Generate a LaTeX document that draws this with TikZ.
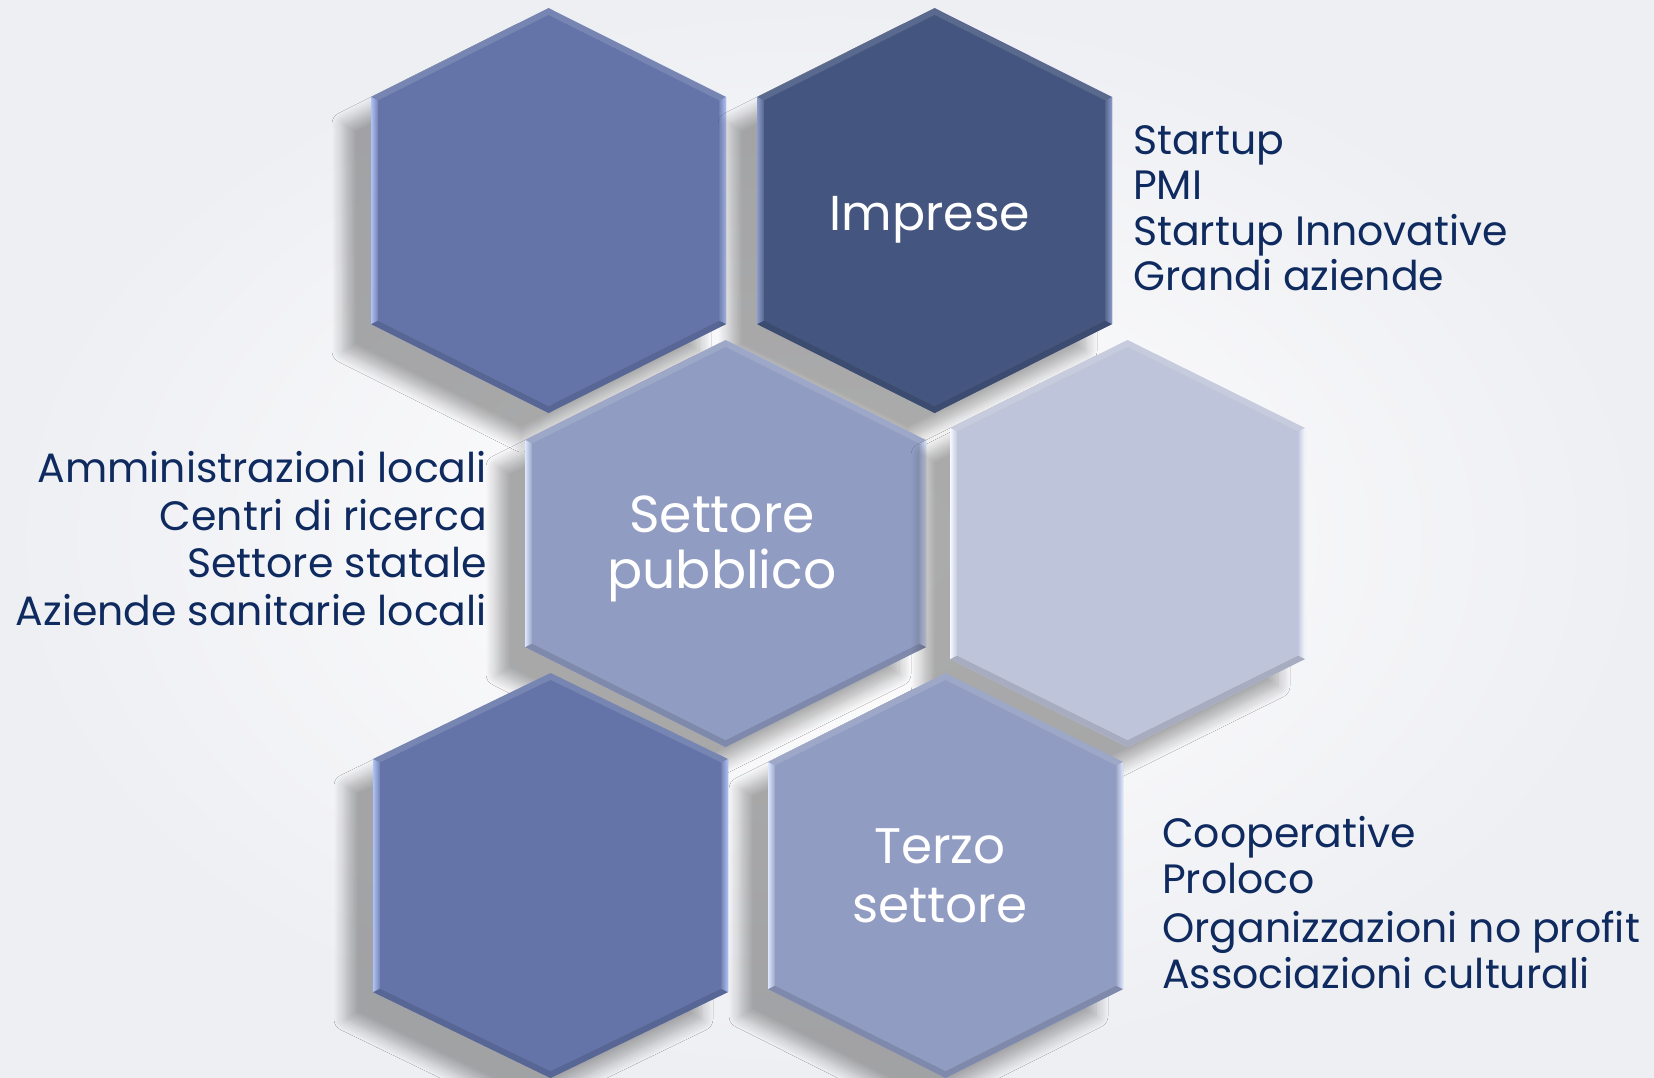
\documentclass[tikz,border=0pt]{standalone}
\usepackage{fontspec}
\setmainfont{Poppins}
\usetikzlibrary{shadows.blur}
\definecolor{hexA}{HTML}{6474A9}
\definecolor{hexAl}{HTML}{AFC2F6}
\definecolor{hexB}{HTML}{44557F}
\definecolor{hexBl}{HTML}{8A9CCB}
\definecolor{hexC}{HTML}{909CC2}
\definecolor{hexCl}{HTML}{DCE6FC}
\definecolor{hexD}{HTML}{BEC4DA}
\definecolor{hexDl}{HTML}{F6F9FF}
\definecolor{listtext}{HTML}{0F2A5F}
\definecolor{bgout}{HTML}{EEEFF3}
\tikzset{
  hexlabel/.style={text=white, inner sep=0pt, anchor=base},
  listitem/.style={text=listtext, inner sep=0pt},
}
\newcommand\hexshape[7]{%
  \begin{scope}[shift={(#1,#2)}]
    \path[blur shadow={shadow xshift=-27pt,shadow yshift=-27pt,shadow blur radius=12pt,shadow blur steps=12,shadow opacity=32},
          fill=#6!88!white]
      (0,-#4) -- (#3,-#4+#5) -- (#3,#4-#5) -- (0,#4) -- (-#3,#4-#5) -- (-#3,-#4+#5) -- cycle;
    \fill[#6!88!black]
      (#3,#4-#5) -- (0,#4) -- (-#3,#4-#5) -- (-#3+7,#4-#5-3.5) -- (0,#4-7) -- (#3-7,#4-#5-3.5) -- cycle;
    \shade[left color=#7, right color=#6!90!white]
      (-#3,-#4+#5) -- (-#3+7,-#4+#5+3.5) -- (-#3+7,#4-#5-3.5) -- (-#3,#4-#5) -- cycle;
    \shade[left color=#6!90!white, right color=#7]
      (#3,-#4+#5) -- (#3-7,-#4+#5+3.5) -- (#3-7,#4-#5-3.5) -- (#3,#4-#5) -- cycle;
    \fill[#6]
      (0,-#4+7) -- (#3-7,-#4+#5+3.5) -- (#3-7,#4-#5-3.5) -- (0,#4-7) -- (-#3+7,#4-#5-3.5) -- (-#3+7,-#4+#5+3.5) -- cycle;
  \end{scope}}
\begin{document}
\begin{tikzpicture}[x=1pt,y=-1pt]
  \useasboundingbox (0,0) rectangle (1654,1078);
  \shade[inner color=white, outer color=bgout] (0,0) rectangle (1654,1078);

  \hexshape{548.5}{210.5}{177.5}{202.5}{89}{hexA}{hexAl}
  \hexshape{934.5}{210.5}{177.5}{202.5}{89}{hexB}{hexBl}
  \hexshape{725.5}{543.5}{200.5}{203.5}{100}{hexC}{hexCl}
  \hexshape{1127.5}{543.5}{177.5}{203.5}{88}{hexD}{hexDl}
  \hexshape{550.5}{875.5}{177.5}{202.5}{86}{hexA}{hexAl}
  \hexshape{945.5}{875.5}{177.5}{202.5}{89}{hexC}{hexCl}

  % labels inside hexagons
  \node[hexlabel, font=\fontsize{49}{53}\selectfont] (imprese) at (930,230) {Imprese};
  \node[hexlabel, font=\fontsize{52}{56}\selectfont] (settore1) at (722,532) {Settore};
  \node[hexlabel, font=\fontsize{52}{56}\selectfont] (settore2) at (722,588) {pubblico};
  \node[hexlabel, font=\fontsize{50}{54}\selectfont] (terzo1) at (940,863) {Terzo};
  \node[hexlabel, font=\fontsize{50}{54}\selectfont] (terzo2) at (940,922) {settore};

  % list: Imprese
  \begin{scope}[every node/.style={listitem, anchor=base west, font=\fontsize{41}{45}\selectfont}]
    \node (i1) at (1133,155) {Startup};
    \node (i2) at (1133,200) {PMI};
    \node (i3) at (1133,245) {Startup Innovative};
    \node (i4) at (1133,290) {Grandi aziende};
  \end{scope}

  % list: Settore pubblico
  \begin{scope}[every node/.style={listitem, anchor=base east, font=\fontsize{41}{45}\selectfont}]
    \node (p1) at (487,482) {Amministrazioni locali};
    \node (p2) at (487,530) {Centri di ricerca};
    \node (p3) at (487,577) {Settore statale};
    \node (p4) at (487,625) {Aziende sanitarie locali};
  \end{scope}

  % list: Terzo settore
  \begin{scope}[every node/.style={listitem, anchor=base west, font=\fontsize{41}{45}\selectfont}]
    \node (t1) at (1162,847) {Cooperative};
    \node (t2) at (1162,893) {Proloco};
    \node (t3) at (1162,942) {Organizzazioni no profit};
    \node (t4) at (1162,988) {Associazioni culturali};
  \end{scope}
\end{tikzpicture}
\end{document}
